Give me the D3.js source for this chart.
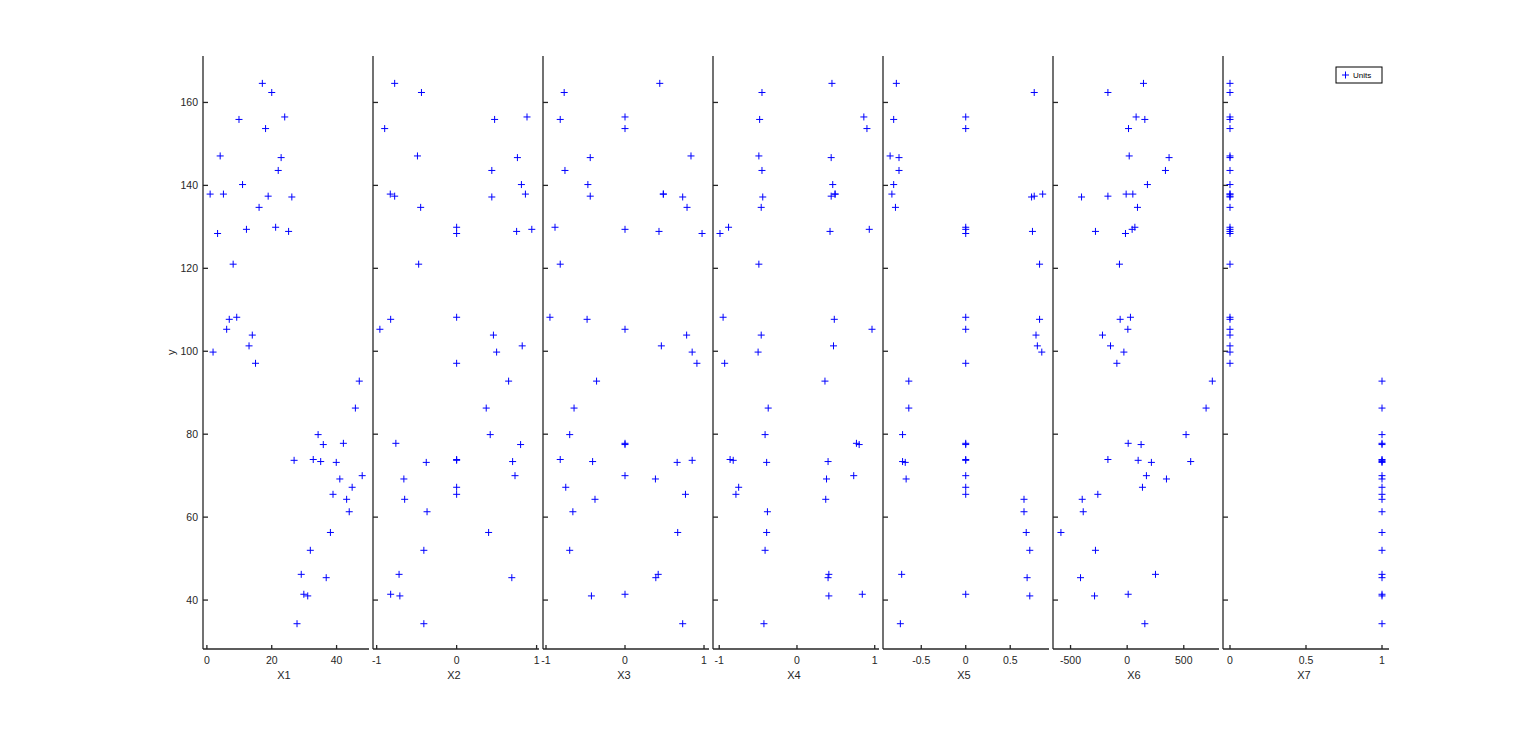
<!DOCTYPE html>
<html>
<head>
<meta charset="utf-8">
<script src="https://cdn.jsdelivr.net/npm/d3@7"></script>
<style>
  body { margin: 0; background: #fff; }
  text { font-family: "Liberation Sans", Arial, Helvetica, sans-serif; fill: #262626; }
</style>
</head>
<body>
<script>
// response, one value per unit
var yVals = [164.6,162.4,156.5,155.9,153.7,147.1,146.7,143.6,140.2,137.9,137.9,137.4,137.2,134.7,129.9,129.4,128.9,128.4,121.0,108.2,107.7,105.3,103.9,101.3,99.8,97.1,
             92.8,86.3,79.9,77.8,77.5,73.9,73.7,73.4,73.2,70.0,69.2,67.2,65.5,64.3,61.3,56.3,52.0,46.2,45.4,41.4,41.0,34.3];

// predictors, same order as yVals
var x1 = [17.1,20.0,24.0,9.9,18.1,4.1,22.9,22.0,11.0,1.0,5.1,18.9,26.2,16.1,21.2,12.2,25.2,3.3,8.1,9.2,6.9,6.1,14.0,13.0,1.9,15.0,
          47.0,45.8,34.3,42.1,35.9,32.8,26.9,35.1,39.9,47.9,41.0,44.8,38.9,43.1,43.9,38.1,31.9,29.1,36.8,29.9,31.1,27.8];
var x2 = [-0.775,-0.44,0.88,0.475,-0.90,-0.49,0.76,0.44,0.81,-0.83,0.86,-0.775,0.44,-0.45,0,0.94,0.75,0,-0.475,0,-0.825,-0.96,0.46,0.82,0.50,0,
          0.65,0.37,0.42,-0.76,0.80,0,0,0.70,-0.38,0.73,-0.66,0,0,-0.65,-0.37,0.40,-0.41,-0.72,0.69,-0.825,-0.71,-0.41];
var x3 = [0.44,-0.77,0,-0.82,0,0.835,-0.44,-0.76,-0.47,0.485,0.485,-0.44,0.73,0.785,-0.886,0,0.43,0.975,-0.82,-0.95,-0.48,0,0.78,0.46,0.85,0.91,
          -0.36,-0.645,-0.70,0,0,-0.82,0.85,-0.41,0.66,0,0.385,-0.75,0.765,-0.38,-0.66,0.667,-0.70,0.42,0.39,0,-0.425,0.73];
var x4 = [0.45,-0.45,0.86,-0.48,0.90,-0.49,0.44,-0.45,0.46,0.49,0.49,0.44,-0.44,-0.46,-0.88,0.93,0.425,-0.99,-0.49,-0.95,0.48,0.965,-0.46,0.47,-0.50,-0.93,
          0.36,-0.37,-0.41,0.765,0.80,-0.86,-0.82,0.40,-0.39,0.73,0.38,-0.75,-0.785,0.37,-0.38,-0.39,-0.41,0.41,0.40,0.84,0.41,-0.425];
var x5 = [-0.78,0.77,0,-0.81,0,-0.85,-0.75,-0.75,-0.81,-0.83,0.865,0.77,0.74,-0.79,0,0,0.75,0,0.83,0,0.83,0,0.79,0.805,0.855,0,
          -0.64,-0.64,-0.71,0,0,0,0,-0.71,-0.68,0,-0.67,0,0,0.655,0.655,0.68,0.72,-0.72,0.69,0,0.72,-0.735];
var x6 = [144,-170,79,156,12,18,370,338,179,-9,50,-170,-403,91,68,44,-280,-15,-68,29,-62,6,-218,-147,-29,-91,
          752,697,520,9,123,-170,97,561,214,170,347,135,-259,-397,-388,-585,-280,250,-412,9,-288,156];
var x7 = [0,0,0,0,0,0,0,0,0,0,0,0,0,0,0,0,0,0,0,0,0,0,0,0,0,0,
          1,1,1,1,1,1,1,1,1,1,1,1,1,1,1,1,1,1,1,1,1,1];

var xNames = ["X1","X2","X3","X4","X5","X6","X7"];
var xSeries = [x1, x2, x3, x4, x5, x6, x7];
var xDomains = [[-1.2,50],[-1.046,1.03],[-1.038,1.063],[-1.08,1.055],[-0.93,0.936],[-655,811],[-0.046,1.046]];
var xTicks = [[0,20,40],[-1,0,1],[-1,0,1],[-1,0,1],[-0.5,0,0.5],[-500,0,500],[0,0.5,1]];
var yDomain = [28.2, 171.2];
var yTicks = [40,60,80,100,120,140,160];

var W = 1536, H = 744;
var left0 = 203, pitch = 170, panelW = 166;
var plotTop = 56, plotBottom = 649;
var axisCol = "#262626";

var svg = d3.select("body").append("svg")
  .attr("width", W).attr("height", H);

var y = d3.scaleLinear().domain(yDomain).range([plotBottom, plotTop]);

xNames.forEach(function(name, k) {
  var x0 = left0 + k * pitch;
  var x = d3.scaleLinear().domain(xDomains[k]).range([x0, x0 + panelW]);
  var g = svg.append("g").attr("class", "panel");

  // y axis line + inward ticks
  g.append("line").attr("x1", x0).attr("x2", x0).attr("y1", plotTop).attr("y2", plotBottom)
    .attr("stroke", axisCol).attr("stroke-width", 1.3);
  g.selectAll(".yt").data(yTicks).enter().append("line")
    .attr("x1", x0).attr("x2", x0 + 5)
    .attr("y1", function(d) { return y(d); }).attr("y2", function(d) { return y(d); })
    .attr("stroke", axisCol).attr("stroke-width", 1.3);

  // x axis line + inward ticks
  g.append("line").attr("x1", x0).attr("x2", x0 + panelW).attr("y1", plotBottom).attr("y2", plotBottom)
    .attr("stroke", axisCol).attr("stroke-width", 1.3);
  g.selectAll(".xt").data(xTicks[k]).enter().append("line")
    .attr("x1", function(d) { return x(d); }).attr("x2", function(d) { return x(d); })
    .attr("y1", plotBottom).attr("y2", plotBottom - 4)
    .attr("stroke", axisCol).attr("stroke-width", 1.3);
  g.selectAll(".xl").data(xTicks[k]).enter().append("text")
    .attr("x", function(d) { return x(d); }).attr("y", plotBottom + 15)
    .attr("text-anchor", "middle").attr("font-size", "10.5px")
    .text(function(d) { return d; });

  g.append("text").attr("x", x0 + panelW / 2 - 2).attr("y", plotBottom + 30)
    .attr("text-anchor", "middle").attr("font-size", "11px").text(name);

  if (k === 0) {
    g.selectAll(".yl").data(yTicks).enter().append("text")
      .attr("x", x0 - 5).attr("y", function(d) { return y(d) + 3.8; })
      .attr("text-anchor", "end").attr("font-size", "10.5px")
      .text(function(d) { return d; });
    g.append("text")
      .attr("transform", "translate(" + (x0 - 28) + "," + (y(100) + 1) + ") rotate(-90)")
      .attr("text-anchor", "middle").attr("font-size", "11px").text("y");
  }

  // plus markers
  var pts = xSeries[k].map(function(v, i) { return [v, yVals[i]]; });
  g.selectAll(".pt").data(pts).enter().append("path")
    .attr("transform", function(d) { return "translate(" + x(d[0]) + "," + y(d[1]) + ")"; })
    .attr("d", "M-3.5,0H3.5M0,-3.5V3.5")
    .attr("stroke", "#0000ff").attr("stroke-width", 1).attr("fill", "none");
});

// legend
var lg = svg.append("g").attr("transform", "translate(1336,67)");
lg.append("rect").attr("width", 46).attr("height", 16)
  .attr("fill", "#fff").attr("stroke", "#000").attr("stroke-width", 1);
lg.append("path").attr("d", "M6,8H13M9.5,4.5V11.5")
  .attr("stroke", "#0000ff").attr("stroke-width", 1);
lg.append("text").attr("x", 17).attr("y", 11).attr("font-size", "8px")
  .style("fill", "#000").text("Units");
</script>
</body>
</html>
